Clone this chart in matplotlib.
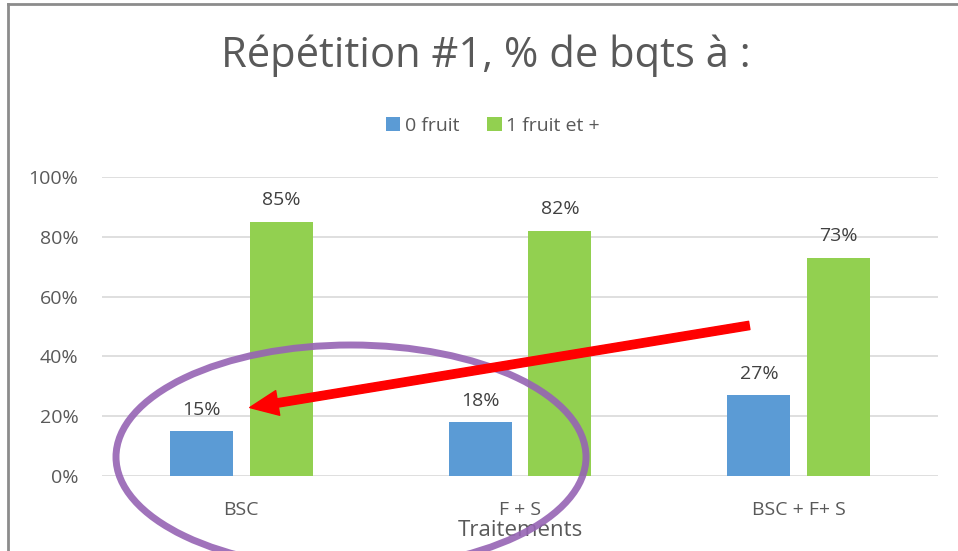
import matplotlib
matplotlib.use('Agg')
import matplotlib.pyplot as plt
from matplotlib.lines import Line2D
from matplotlib.patches import Ellipse, FancyArrowPatch
import numpy as np

### Data

categories = ['BSC', 'F + S', 'BSC + F+ S']
zero_fruit = [15, 18, 27]
one_fruit_plus = [85, 82, 73]
series_labels = ['0 fruit', '1 fruit et +']
y_ticks = [0, 20, 40, 60, 80, 100]

plt.rcParams['font.family'] = ['Open Sans', 'DejaVu Sans']

W, H = 958, 551
fig = plt.figure(figsize=(W / 100, H / 100), dpi=100)

def fx(px):
    return px / W

def fy(py):
    return 1 - py / H

ax = fig.add_axes([fx(102), fy(476), fx(938) - fx(102), fy(177) - fy(476)])

x = np.arange(len(categories))
bw = 0.226
off = 0.143
blue = '#5B9BD5'
green = '#92D050'
b1 = ax.bar(x - off, zero_fruit, bw, color=blue, label=series_labels[0], zorder=2)
b2 = ax.bar(x + off, one_fruit_plus, bw, color=green, label=series_labels[1], zorder=2)

for bars, vals in ((b1, zero_fruit), (b2, one_fruit_plus)):
    for r, v in zip(bars, vals):
        ax.annotate(f'{v}%', (r.get_x() + r.get_width() / 2, v), xytext=(0, 9),
                    textcoords='offset points', ha='center', va='bottom',
                    fontsize=14, color='#404040')

ax.set_xlim(-0.5, 2.5)
ax.set_ylim(0, 100)
ax.set_yticks(y_ticks)
ax.set_yticklabels([f'{t}%' for t in y_ticks])
ax.set_xticks(x)
ax.set_xticklabels(categories)
ax.tick_params(axis='both', length=0, labelsize=14, colors='#595959')
ax.tick_params(axis='x', pad=18)
ax.tick_params(axis='y', pad=17)
ax.grid(axis='y', color='#D9D9D9', linewidth=1.2, zorder=0)
for s in ax.spines.values():
    s.set_visible(False)
ax.set_xlabel('Traitements', fontsize=16, color='#595959', labelpad=1)

fig.text(fx(486), fy(56), 'Répétition #1, % de bqts à :', ha='center', va='center',
         fontsize=30, color='#595959')

leg = ax.legend(loc='center', bbox_to_anchor=(fx(493), fy(126)),
                bbox_transform=fig.transFigure, ncol=2, frameon=False,
                fontsize=14, handlelength=0.75, handleheight=0.75,
                handletextpad=0.25, columnspacing=1.4)
for t in leg.get_texts():
    t.set_color('#595959')

# frame of the original chart object
fig.add_artist(Line2D([fx(8), fx(8)], [fy(4), 0], color='#8C8C8C', linewidth=2))
fig.add_artist(Line2D([fx(8), 1], [fy(4), fy(4)], color='#8C8C8C', linewidth=2))

# hand-drawn annotations
ell = Ellipse((fx(351), fy(457)), fx(470), 224 / H, transform=fig.transFigure,
              fill=False, edgecolor='#9664B4', linewidth=5, alpha=0.9, zorder=5)
fig.add_artist(ell)
arr = FancyArrowPatch((fx(752), fy(325)), (fx(247), fy(408)),
                      transform=fig.transFigure, color='#FF0000',
                      arrowstyle='simple,head_length=1.7,head_width=1.5,tail_width=0.5',
                      mutation_scale=12, zorder=6)
fig.add_artist(arr)

fig.savefig('out.png', dpi=100)
plt.close(fig)
